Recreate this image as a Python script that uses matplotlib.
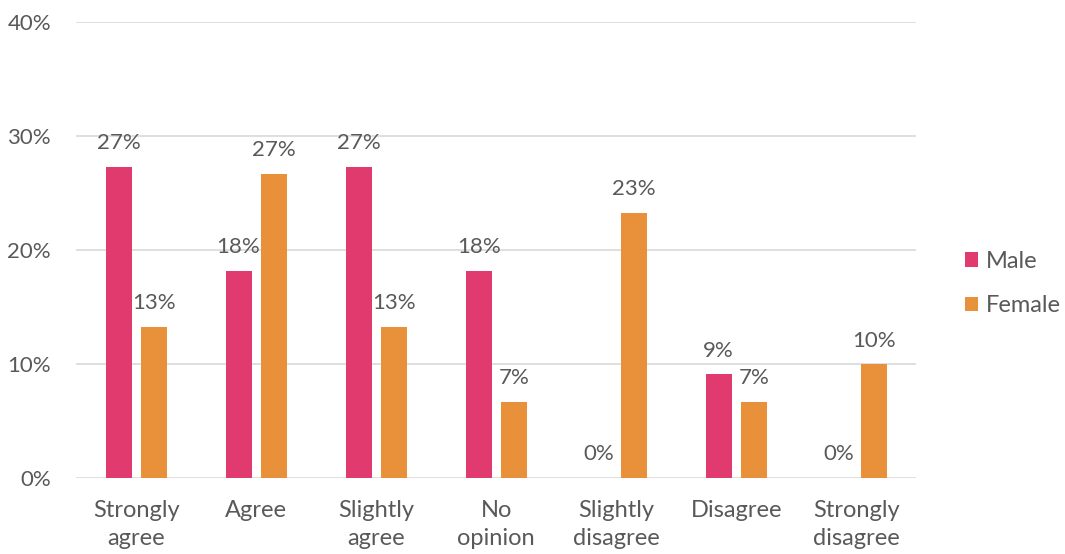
import matplotlib.pyplot as plt
import numpy as np

categories = ["Strongly\nagree", "Agree", "Slightly\nagree", "No\nopinion",
              "Slightly\ndisagree", "Disagree", "Strongly\ndisagree"]
male = [27.3, 18.2, 27.3, 18.2, 0.0, 9.1, 0.0]
female = [13.3, 26.7, 13.3, 6.7, 23.3, 6.7, 10.0]
yticks = [0, 10, 20, 30, 40]

MALE_C = "#E03A6E"
FEMALE_C = "#E8913A"
TEXT_C = "#595959"
GRID_C = "#D9D9D9"

plt.rcParams['font.family'] = ['Lato', 'DejaVu Sans']

fig = plt.figure(figsize=(10.65, 5.54), dpi=100)
ax = fig.add_axes([0.0714, 0.137, 0.789, 0.823])

x = np.arange(len(categories))
w = 0.217
off = 0.146
bm = ax.bar(x - off, male, w, color=MALE_C, label="Male")
bf = ax.bar(x + off, female, w, color=FEMALE_C, label="Female")

for bars, vals in ((bm, male), (bf, female)):
    for b, v in zip(bars, vals):
        ax.annotate(f"{v:.0f}%", (b.get_x() + b.get_width() / 2, v),
                    xytext=(0, 17), textcoords="offset points",
                    ha="center", va="center", fontsize=16, color=TEXT_C)

ax.set_xlim(-0.5, len(categories) - 0.5)
ax.set_ylim(0, 40)
ax.set_yticks(yticks)
ax.set_yticklabels([f"{t}%" for t in yticks])
ax.set_xticks(x)
ax.set_xticklabels(categories, linespacing=1.38, fontsize=17)
ax.tick_params(axis="both", length=0, labelsize=16, colors=TEXT_C)
ax.tick_params(axis="x", labelsize=17, pad=16)
ax.tick_params(axis="y", pad=18)
ax.yaxis.grid(True, color=GRID_C, linewidth=1.2)
ax.set_axisbelow(True)
for s in ax.spines.values():
    s.set_visible(False)

fig.legend(handles=[bm, bf], loc="center left", bbox_to_anchor=(0.886, 0.488),
           frameon=False, fontsize=17, labelcolor=TEXT_C, handlelength=0.55,
           handleheight=0.55, handletextpad=0.35, labelspacing=1.0)

fig.savefig("out.png", dpi=100)
